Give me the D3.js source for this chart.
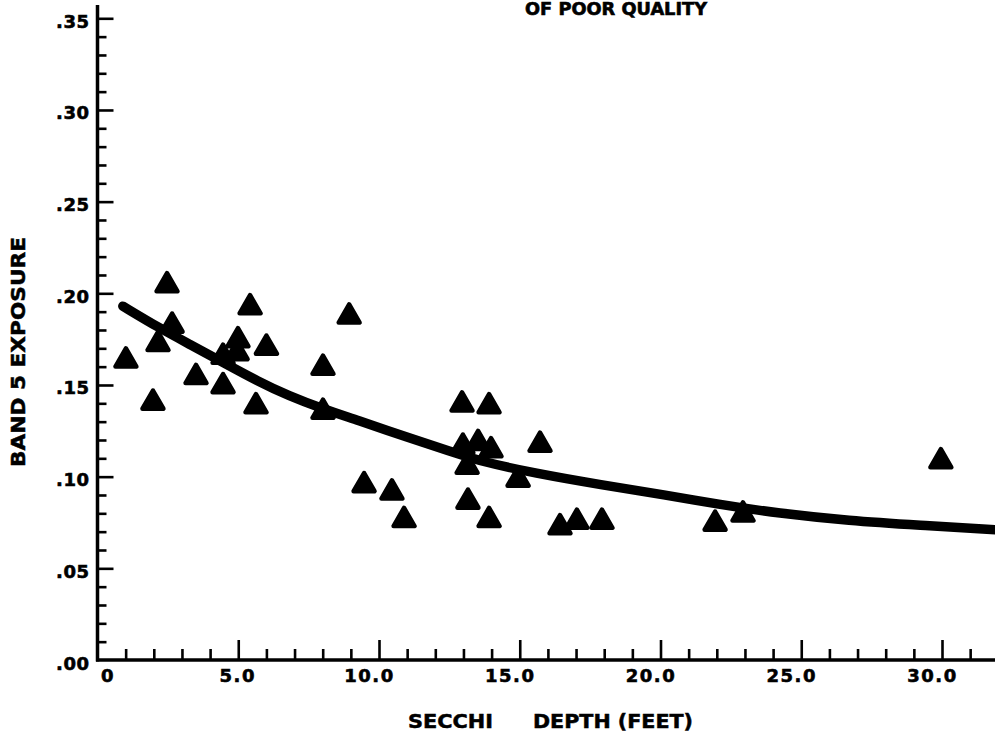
<!DOCTYPE html>
<html>
<head>
<meta charset="utf-8">
<script src="https://cdn.jsdelivr.net/npm/d3@7"></script>
<style>
  html, body { margin: 0; padding: 0; background: #fff; }
  svg { display: block; }
  text { font-family: "DejaVu Sans", "Liberation Sans", sans-serif; font-weight: bold; fill: #000; }
</style>
</head>
<body>
<svg id="chart" width="995" height="740"></svg>
<script>
// ---- Data ----
const secchiDepth = [1.01, 1.97, 2.47, 2.15, 2.65, 3.50, 4.46, 4.46, 4.99, 4.96, 5.42, 5.63, 6.00,
  8.01, 8.01, 8.94, 9.47, 10.46, 10.89, 12.95, 12.98, 13.52, 13.98, 13.13, 13.91, 13.16, 13.91,
  14.94, 15.72, 16.43, 17.03, 17.92, 21.94, 22.93, 29.96];
const band5Exposure = [0.165, 0.142, 0.206, 0.174, 0.184, 0.156, 0.151, 0.167, 0.176, 0.169, 0.194, 0.140, 0.172,
  0.161, 0.137, 0.189, 0.097, 0.093, 0.078, 0.141, 0.118, 0.120, 0.116, 0.107, 0.140, 0.088, 0.078,
  0.100, 0.119, 0.074, 0.077, 0.077, 0.076, 0.081, 0.110];

const fitDepth = [0.9, 2.2, 3.3, 4.5, 5.7, 6.8, 8.0, 9.2, 11.1, 12.5, 13.7, 15.5, 17.9, 20.2, 22.0, 24.2, 26.7, 29.2, 31.9];
const fitExposure = [0.193, 0.181, 0.172, 0.162, 0.152, 0.144, 0.137, 0.131, 0.121, 0.114, 0.108, 0.102, 0.0955, 0.090, 0.085, 0.080, 0.076, 0.0735, 0.071];

const xMajorTicks = [0, 5, 10, 15, 20, 25, 30];
const xTickLabels = ["0", "5.0", "10.0", "15.0", "20.0", "25.0", "30.0"];
const yMajorTicks = [0, 0.05, 0.10, 0.15, 0.20, 0.25, 0.30, 0.35];
const yTickLabels = [".00", ".05", ".10", ".15", ".20", ".25", ".30", ".35"];

const titleText = "OF POOR QUALITY";
const xTitleWords = ["SECCHI", "DEPTH (FEET)"];
const yTitleText = "BAND 5 EXPOSURE";

// ---- Layout ----
const svg = d3.select("#chart");
const x0 = 97.5, xAt30 = 942, yAt0 = 660, yAt35 = 18.3;
const x = d3.scaleLinear().domain([0, 30]).range([x0, xAt30]);
const y = d3.scaleLinear().domain([0, 0.35]).range([yAt0, yAt35]);

// minor ticks
const xMinor = d3.range(0, 32).filter(v => v % 5 !== 0);
const yMinor = d3.range(0, 36).map(v => v / 100).filter((v, i) => i % 5 !== 0);

// X axis
const xAxisG = svg.append("g").attr("transform", `translate(0,${yAt0})`);
xAxisG.append("line").attr("x1", x0 - 1.5).attr("x2", 995).attr("y1", 0).attr("y2", 0)
  .attr("stroke", "#000").attr("stroke-width", 3.5);
const xMinorG = xAxisG.append("g").call(d3.axisBottom(x).tickValues(xMinor).tickSize(-11).tickFormat(""));
const xMajorG = xAxisG.append("g").call(d3.axisBottom(x).tickValues(xMajorTicks).tickSize(-20).tickPadding(9)
  .tickFormat((d, i) => xTickLabels[i]));
[xMinorG, xMajorG].forEach(g => {
  g.select(".domain").remove();
  g.selectAll(".tick line").attr("stroke", "#000").attr("stroke-width", 2.6);
});
xMajorG.selectAll(".tick").filter(d => d === 0).select("line").remove();
xMajorG.selectAll(".tick text")
  .attr("font-size", 18).attr("letter-spacing", 1.5).attr("fill", "#000")
  .attr("stroke", "#000").attr("stroke-width", 0.6)
  .attr("dx", d => d === 0 ? 10 : (d === 5 ? -1 : -10))
  .attr("font-family", "DejaVu Sans").attr("font-weight", "bold");

// Y axis
const yAxisG = svg.append("g").attr("transform", `translate(${x0},0)`);
yAxisG.append("line").attr("x1", 0).attr("x2", 0).attr("y1", 5).attr("y2", yAt0 + 1.5)
  .attr("stroke", "#000").attr("stroke-width", 3.5);
const yMinorG = yAxisG.append("g").call(d3.axisLeft(y).tickValues(yMinor).tickSize(-9).tickFormat(""));
const yMajorG = yAxisG.append("g").call(d3.axisLeft(y).tickValues(yMajorTicks).tickSize(-16).tickPadding(8)
  .tickFormat((d, i) => yTickLabels[i]));
[yMinorG, yMajorG].forEach(g => {
  g.select(".domain").remove();
  g.selectAll(".tick line").attr("stroke", "#000").attr("stroke-width", 2.6);
});
yMajorG.selectAll(".tick").filter(d => d === 0).select("line").remove();
yMajorG.selectAll(".tick text")
  .attr("font-size", 18).attr("letter-spacing", 0.5).attr("fill", "#000").attr("dy", "0.5em")
  .attr("stroke", "#000").attr("stroke-width", 0.6)
  .attr("font-family", "DejaVu Sans").attr("font-weight", "bold");

// Fitted curve
const fit = fitDepth.map((d, i) => [d, fitExposure[i]]);
svg.append("path")
  .datum(fit)
  .attr("fill", "none").attr("stroke", "#000").attr("stroke-width", 9.5)
  .attr("stroke-linecap", "round").attr("stroke-linejoin", "round")
  .attr("d", d3.line().x(d => x(d[0])).y(d => y(d[1])).curve(d3.curveBasis));

// Points (triangles)
const tri = d3.symbol().type(d3.symbolTriangle).size(190);
const pts = secchiDepth.map((d, i) => [d, band5Exposure[i]]);
svg.append("g").selectAll("path").data(pts).join("path")
  .attr("d", tri)
  .attr("transform", d => `translate(${x(d[0])},${y(d[1]) + 3})`)
  .attr("fill", "#000").attr("stroke", "#000").attr("stroke-width", 4.5).attr("stroke-linejoin", "round");

// Titles
svg.append("text").attr("x", 525).attr("y", 15).attr("font-size", 17)
  .attr("stroke", "#000").attr("stroke-width", 0.6)
  .attr("textLength", 182).attr("lengthAdjust", "spacingAndGlyphs").text(titleText);

svg.append("text").attr("x", 408).attr("y", 728).attr("font-size", 19)
  .attr("stroke", "#000").attr("stroke-width", 0.5)
  .attr("textLength", 85).attr("lengthAdjust", "spacingAndGlyphs").text(xTitleWords[0]);
svg.append("text").attr("x", 533).attr("y", 728).attr("font-size", 19)
  .attr("stroke", "#000").attr("stroke-width", 0.5)
  .attr("textLength", 160).attr("lengthAdjust", "spacingAndGlyphs").text(xTitleWords[1]);

svg.append("text")
  .attr("transform", "translate(25,467) rotate(-90)")
  .attr("font-size", 19)
  .attr("stroke", "#000").attr("stroke-width", 0.5)
  .attr("textLength", 230).attr("lengthAdjust", "spacingAndGlyphs")
  .text(yTitleText);
</script>
</body>
</html>
